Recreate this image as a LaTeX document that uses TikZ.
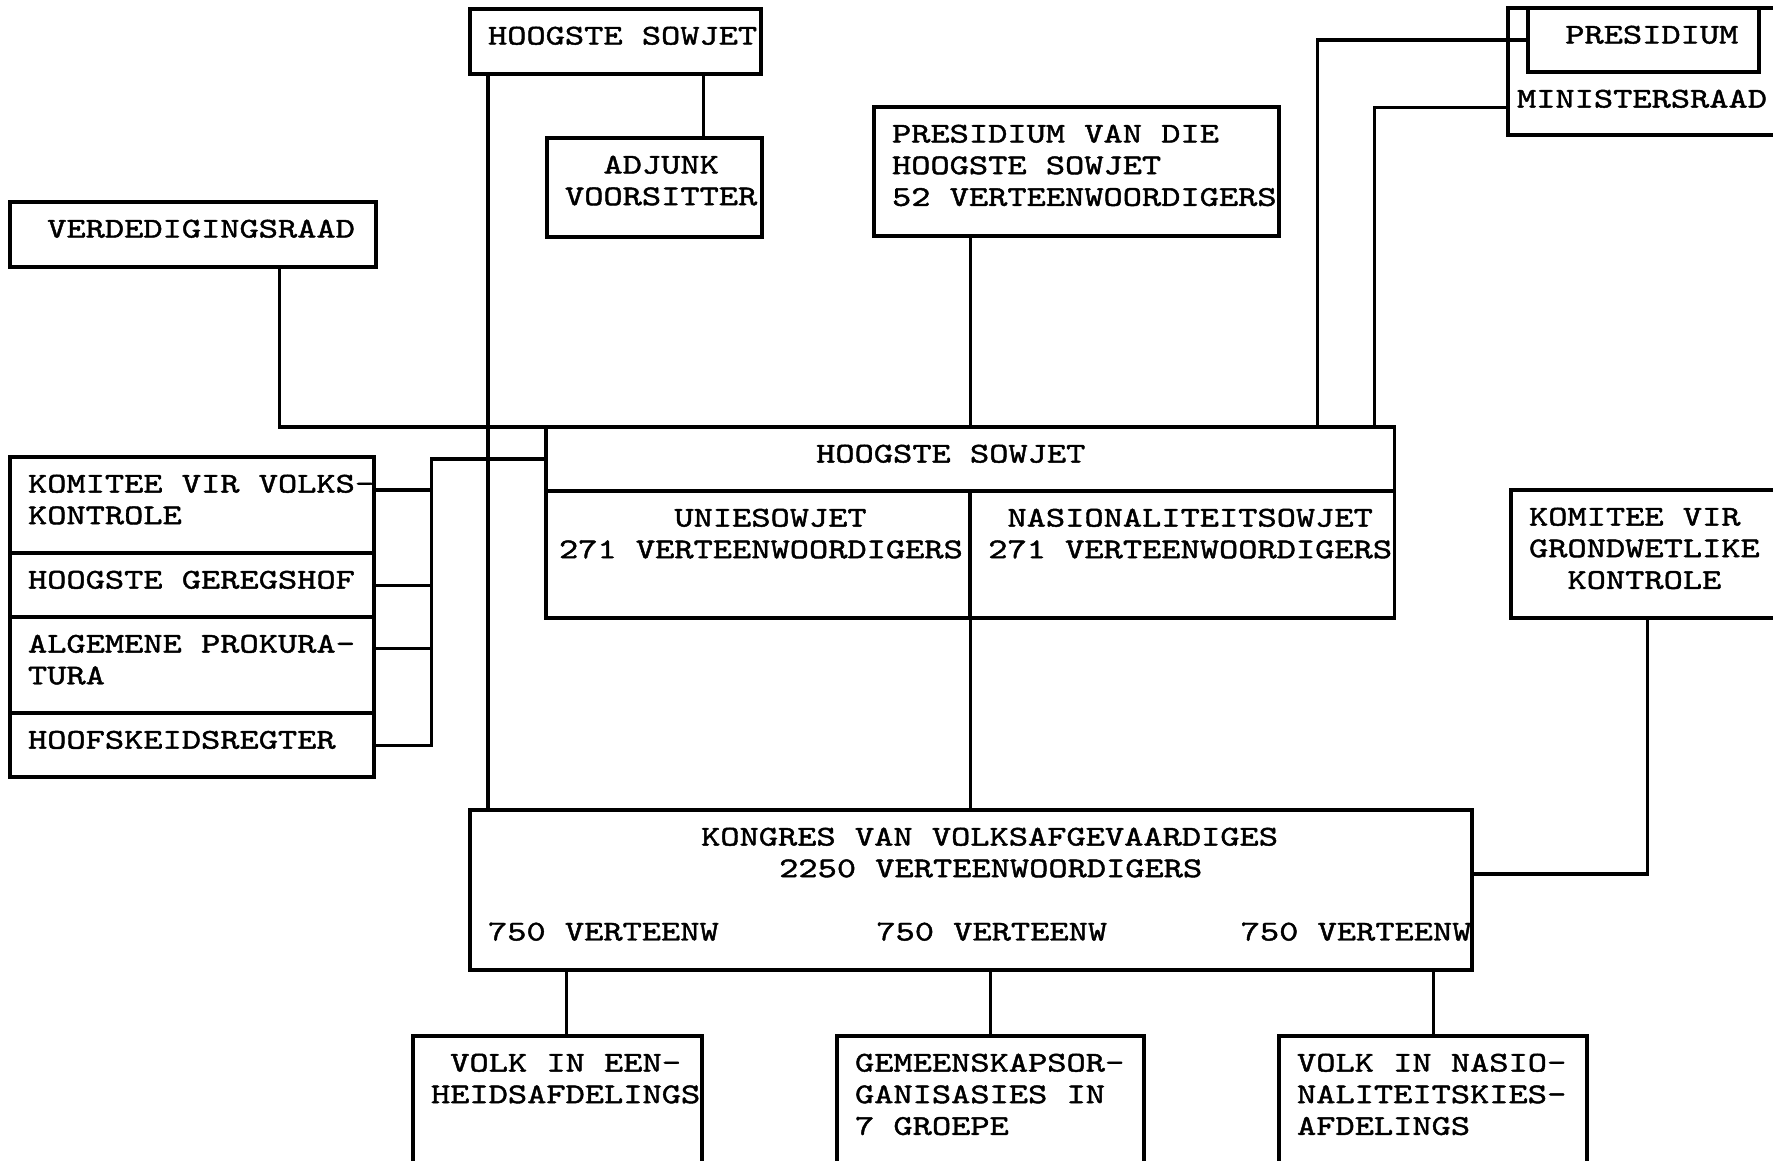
\documentclass[tikz,border=0pt]{standalone}
\usepackage{fontspec}
\setmonofont[FakeStretch=1.278, FakeBold=1.5, HyphenChar=None]{lmmono10-regular.otf}
\usetikzlibrary{positioning}

\begin{document}
\begin{tikzpicture}[
        x=0.01cm, y=-0.01cm,
        orgbox/.style={rectangle, draw=black, line width=1.1pt, anchor=north west, outer sep=0pt, inner xsep=0.18cm, inner ysep=0.175cm, text height=0.18cm, align=left, font=\ttfamily\fontsize{8.15}{9}\selectfont, execute at begin node={\spaceskip=5.47pt\relax}},
        link/.style={line width=0.9pt}
    ]%
    \useasboundingbox (0,0) rectangle (1773,1160);
    \clip (0,0) rectangle (1773,1160);
    %
    % === Boonste ry ===
    \node[orgbox, text width=2.55cm, text depth=0.12cm] (hs_top) at (470,9) {HOOGSTE~SOWJET};
    \node[orgbox, text width=1.79cm, text depth=0.46cm] (adjunk) at (547,138) {~~ADJUNK\\VOORSITTER};
    \node[orgbox, text width=3.69cm, text depth=0.76cm] (pres_hs) at (874,107) {PRESIDIUM VAN DIE\\HOOGSTE SOWJET\\52~VERTEENWOORDIGERS};
    \node[orgbox, text width=2.92cm, inner xsep=0.09cm, text height=0.82cm, text depth=0.1cm] (min_raad) at (1508,8) {MINISTERSRAAD};
    \node[orgbox, text width=1.95cm, text depth=0.11cm] (pres_inner) at (1528,8) {~PRESIDIUM};
    \node[orgbox, text width=3.30cm, text depth=0.12cm] (verd) at (10,202) {~VERDEDIGINGSRAAD};
    %
    % === Linkerkolom ===
    \node[orgbox, text width=3.28cm, text depth=0.43cm] (komitee) at (10,457) {KOMITEE~VIR~VOLKS-\\KONTROLE};
    \node[orgbox, text width=3.28cm, text depth=0.11cm, below=0pt of komitee] (geregshof) {HOOGSTE~GEREGSHOF};
    \node[orgbox, text width=3.28cm, text depth=0.43cm, below=0pt of geregshof] (prokura) {ALGEMENE~PROKURA-\\TURA};
    \node[orgbox, text width=3.28cm, text depth=0.11cm, below=0pt of prokura] (hoofskeids) {HOOFSKEIDSREGTER};
    %
    % === Hoogste Sowjet ===
    \node[orgbox, text width=8.12cm, text depth=0.11cm] (hs_title) at (546,427) {\hspace*{2.52cm}HOOGSTE SOWJET};
    \node[orgbox, text width=3.98cm, inner xsep=0.13cm, text depth=0.74cm, below right=0pt and 0pt of hs_title.south west] (unie) {~~~~~~UNIESOWJET\\271~VERTEENWOORDIGERS};
    \node[orgbox, text width=3.88cm, text depth=0.74cm, right=0pt of unie] (nasion) {~NASIONALITEITSOWJET\\271~VERTEENWOORDIGERS};
    \node[orgbox, text width=2.36cm, text depth=0.75cm] (grondwet) at (1511,490) {KOMITEE VIR\\GRONDWETLIKE\\~~KONTROLE};
    %
    % === Kongres en onderste ry ===
    \node[orgbox, text width=9.65cm, text depth=1.07cm] (kongres) at (470,810) {\hspace*{2.13cm}KONGRES VAN VOLKSAFGEVAARDIGES\\\hspace*{2.91cm}2250 VERTEENWOORDIGERS\\[9pt]750~VERTEENW\hspace*{1.575cm}750~VERTEENW\hspace*{1.335cm}750~VERTEENW};
    \node[orgbox, text width=2.53cm, text depth=1.47cm] (volk_een) at (413,1036) {~VOLK~IN~EEN-\\HEIDSAFDELINGS};
    \node[orgbox, text width=2.71cm, text depth=1.47cm] (gemeenskap) at (837,1036) {GEMEENSKAPSOR-\\GANISASIES IN\\7 GROEPE};
    \node[orgbox, text width=2.72cm, text depth=1.47cm] (volk_nas) at (1279,1036) {VOLK~IN~NASIO-\\NALITEITSKIES-\\AFDELINGS};
    %
    % Verbindings
    \draw[link] ([xshift=0.18cm]hs_top.south west) -- ([xshift=0.18cm]hs_top.south west |- kongres.north);
    \draw[link] ([xshift=-0.59cm]adjunk.north east) -- ([xshift=-0.59cm]adjunk.north east |- hs_top.south);
    \draw[link] ([xshift=-0.97cm]verd.south east) |- (hs_title.north west);
    \draw[link] (pres_hs.south -| unie.east) -- (hs_title.north -| unie.east);
    \draw[link] (unie.south east) -- (unie.south east |- kongres.north);
    \draw[link] (pres_inner.west) -| ([xshift=-0.77cm]hs_title.north east);
    \draw[link] (min_raad.base west) -| ([xshift=-0.2cm]hs_title.north east);
    \draw[link] (hs_title.west) -| ([xshift=0.57cm]hoofskeids.east) -- (hoofskeids.east);
    \foreach \n/\dy in {komitee/0.15cm, geregshof/0cm, prokura/0.17cm}
        \draw[link] ([yshift=\dy]\n.east) -- ++(0.57cm,0);
    \draw[link] (grondwet.south) |- ([yshift=0.16cm]kongres.east);
    \foreach \n/\dx in {volk_een/0.09cm, gemeenskap/0cm, volk_nas/0cm}
        \draw[link] ([xshift=\dx]\n.north) -- ([xshift=\dx]\n.north |- kongres.south);
\end{tikzpicture}
\end{document}
